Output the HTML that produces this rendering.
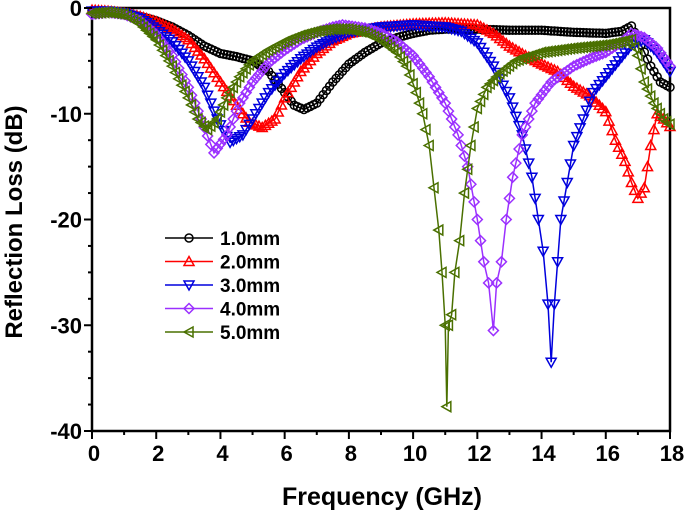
<!DOCTYPE html>
<html><head><meta charset="utf-8"><style>
body{margin:0;background:#fff;}
svg{display:block;font-family:"Liberation Sans",Arial,sans-serif;font-weight:bold;}
</style></head><body>
<svg id="chart" width="688" height="520"></svg>
<script>
const xTicks=[0,2,4,6,8,10,12,14,16,18];
const yTicks=[0,-10,-20,-30,-40];
const seriesNames=["1.0mm","2.0mm","3.0mm","4.0mm","5.0mm"];
const x1=[0,0.5,1,1.5,2,2.5,3,3.5,4,4.5,5,5.5,6,6.3,6.6,7,7.5,8,8.5,9,9.5,10,10.5,11,12,13,14,15,16,16.5,16.8,17.1,17.4,17.7,18];
const y1=[-0.3,-0.3,-0.5,-0.8,-1.2,-1.8,-2.6,-3.6,-4.3,-4.6,-5,-6,-8,-9.2,-9.6,-9,-7,-5.3,-4.2,-3.3,-2.8,-2.4,-2.1,-2,-2,-2.1,-2.1,-2.3,-2.4,-2.2,-1.7,-3.5,-5.5,-7,-7.5];
const x2=[0,0.5,1,1.5,2,2.5,3,3.5,4,4.5,4.9,5.3,5.7,6,6.5,7,7.5,8,9,10,11,12,12.5,13,13.5,14,14.5,15,15.5,16,16.3,16.6,16.8,17,17.2,17.4,17.6,17.8,18];
const y2=[-0.2,-0.3,-0.5,-0.8,-1.3,-2,-3,-4.8,-7,-9.2,-10.8,-11.3,-10.5,-8.5,-6,-4.3,-3.1,-2.4,-1.8,-1.5,-1.4,-1.6,-2.4,-3.6,-4.5,-5.3,-6,-7.4,-8.3,-9.8,-12.5,-14.5,-16.5,-18,-17,-13,-10,-10.5,-11.2];
const x3=[0,0.5,1,1.5,2,2.5,3,3.5,3.9,4.3,4.7,5,5.5,6,6.5,7,7.5,8,9,10,11,11.5,12,12.5,13,13.4,13.7,13.9,14.05,14.2,14.3,14.4,14.5,14.6,14.8,15,15.3,15.6,16,16.4,16.8,17.2,17.6,18];
const y3=[-0.3,-0.3,-0.5,-1,-2,-3.2,-5,-7.5,-10.5,-12.7,-12,-10.5,-8,-6.2,-4.8,-3.7,-2.9,-2.3,-1.8,-1.6,-1.8,-2.2,-3.3,-5.5,-8.5,-12,-16,-20,-23,-28,-33.5,-28,-24,-20,-16.5,-13,-10.5,-8,-6.5,-5,-3.5,-3,-4.2,-6];
const x4=[0,0.5,1,1.5,2,2.5,3,3.4,3.8,4.2,4.6,5,5.5,6,6.5,7,7.5,7.8,8.5,9,9.5,10,10.5,11,11.4,11.7,12,12.2,12.35,12.5,12.6,12.75,12.9,13.1,13.4,13.8,14.3,15,15.5,16,16.5,16.8,17.2,17.6,18];
const y4=[-0.6,-0.4,-0.6,-1.2,-2.5,-4.5,-7.5,-10.5,-13.7,-12,-9,-7,-5.2,-4,-3,-2.3,-1.8,-1.6,-1.9,-2.4,-3.2,-4.5,-6.5,-9,-12,-15,-20,-24,-26,-30.5,-26,-24,-20,-16,-12,-9,-7,-5.5,-4.8,-4.2,-3.2,-2.4,-2.8,-3.8,-5.5];
const x5=[0,0.5,1,1.5,2,2.5,3,3.3,3.6,3.9,4.2,4.6,5,5.5,6,6.5,7,7.5,8,8.5,9,9.5,9.8,10.1,10.3,10.5,10.65,10.8,10.9,11.0,11.05,11.1,11.2,11.3,11.45,11.6,11.8,12,12.3,12.7,13.2,14,15,16,16.5,16.8,17.0,17.2,17.5,17.8,18];
const y5=[-0.5,-0.4,-0.6,-1.5,-3,-5.5,-8.5,-10.5,-11.5,-10.5,-8.5,-6.5,-5,-4,-3.2,-2.6,-2.2,-2,-2,-2.3,-3,-4.2,-5.5,-8,-10,-13,-17,-21,-25,-30,-37.7,-30,-29,-25,-22,-17.5,-13,-9.5,-7.5,-6.2,-5,-4.2,-3.8,-3.5,-3.2,-3,-4.5,-7,-9,-10.5,-11];
const X0=92,X1=670,Y0=8,Y1=431;
const sx=v=>X0+(v-0)/18*(X1-X0);
const sy=v=>Y0+(0-v)/40*(Y1-Y0);
const NS="http://www.w3.org/2000/svg";
const svg=document.getElementById("chart");
function mk(t,a,p){const e=document.createElementNS(NS,t);for(const k in a)e.setAttribute(k,a[k]);(p||svg).appendChild(e);return e;}
const colors=["#000000","#ff0000","#0000dd","#9b30ff","#4a7000"];
const shapes=["circle","up","down","diamond","left"];
function marker(g,shape,x,y,c){
  const r=5;let e;
  if(shape==="circle"){e=mk("circle",{cx:x,cy:y,r:4,fill:"none",stroke:c,"stroke-width":1.5},g);}
  else{let p;
    if(shape==="up")p=[[x,y-r],[x+r,y+r*0.8],[x-r,y+r*0.8]];
    if(shape==="down")p=[[x,y+r],[x+r,y-r*0.8],[x-r,y-r*0.8]];
    if(shape==="left")p=[[x-r,y],[x+r*0.8,y-r],[x+r*0.8,y+r]];
    if(shape==="diamond")p=[[x,y-r],[x+r,y],[x,y+r],[x-r,y]];
    e=mk("polygon",{points:p.map(q=>q.join(",")).join(" "),fill:"none",stroke:c,"stroke-width":1.5},g);}
  
  
}
const frame=mk("rect",{x:X0,y:Y0,width:X1-X0,height:Y1-Y0,fill:"none",stroke:"#000","stroke-width":2.5});


const data=[[x1,y1],[x2,y2],[x3,y3],[x4,y4],[x5,y5]];
data.forEach((d,i)=>{
  const g=mk("g",{});
  
  
  const P=d[0].map((v,j)=>[sx(v),sy(d[1][j])]);
  mk("polyline",{points:P.map(p=>p.join(",")).join(" "),fill:"none",stroke:colors[i],"stroke-width":1.5},g);
  // markers: at data points plus extra markers along the line segments (dense marker look)
  const step=3.2;
  for(let j=0;j<P.length;j++){
    marker(g,shapes[i],P[j][0],P[j][1],colors[i]);
    if(j<P.length-1){
      const dx=P[j+1][0]-P[j][0];
      const n=Math.floor(dx/step);
      for(let k=1;k<n;k++){const t=k/n;marker(g,shapes[i],P[j][0]+dx*t,P[j][1]+(P[j+1][1]-P[j][1])*t,colors[i]);}
    }
  }
});
xTicks.forEach((v,i)=>{
  const x=sx(v);
  mk("line",{x1:x,y1:Y1,x2:x,y2:Y1+8,stroke:"#000","stroke-width":2});
  if(i<xTicks.length-1){const xm=sx(v+1);mk("line",{x1:xm,y1:Y1,x2:xm,y2:Y1+4,stroke:"#000","stroke-width":2});}
  const t=mk("text",{x:x+2,y:Y1+30,"text-anchor":"middle","font-size":22,fill:"#000"});
  t.textContent=v;
  
  
});
yTicks.forEach((v,i)=>{
  const y=sy(v);
  mk("line",{x1:X0,y1:y,x2:X0-8,y2:y,stroke:"#000","stroke-width":2});
  if(i<yTicks.length-1){for(let k=1;k<4;k++){const ym=sy(v-2.5*k);mk("line",{x1:X0,y1:ym,x2:X0-4,y2:ym,stroke:"#000","stroke-width":2});}}
  const t=mk("text",{x:X0-10,y:y+8,"text-anchor":"end","font-size":22,fill:"#000"});
  t.textContent=v;
  
  
});
const xt=mk("text",{x:382,y:505,"text-anchor":"middle","font-size":25,fill:"#000"});
xt.textContent="Frequency (GHz)";


const yt=mk("text",{x:0,y:0,"text-anchor":"middle","font-size":24,fill:"#000",transform:"translate(22,222) rotate(-90)"});
yt.textContent="Reflection Loss (dB)";


seriesNames.forEach((n,i)=>{
  const y=238+i*23.5;
  const g=mk("g",{});
  
  
  mk("line",{x1:165,y1:y,x2:213,y2:y,stroke:colors[i],"stroke-width":1.5},g);
  marker(g,shapes[i],189,y,colors[i]);
  const t=mk("text",{x:220,y:y+7,"font-size":19,fill:"#000"},g);
  t.textContent=n;
});
</script>
</body></html>
